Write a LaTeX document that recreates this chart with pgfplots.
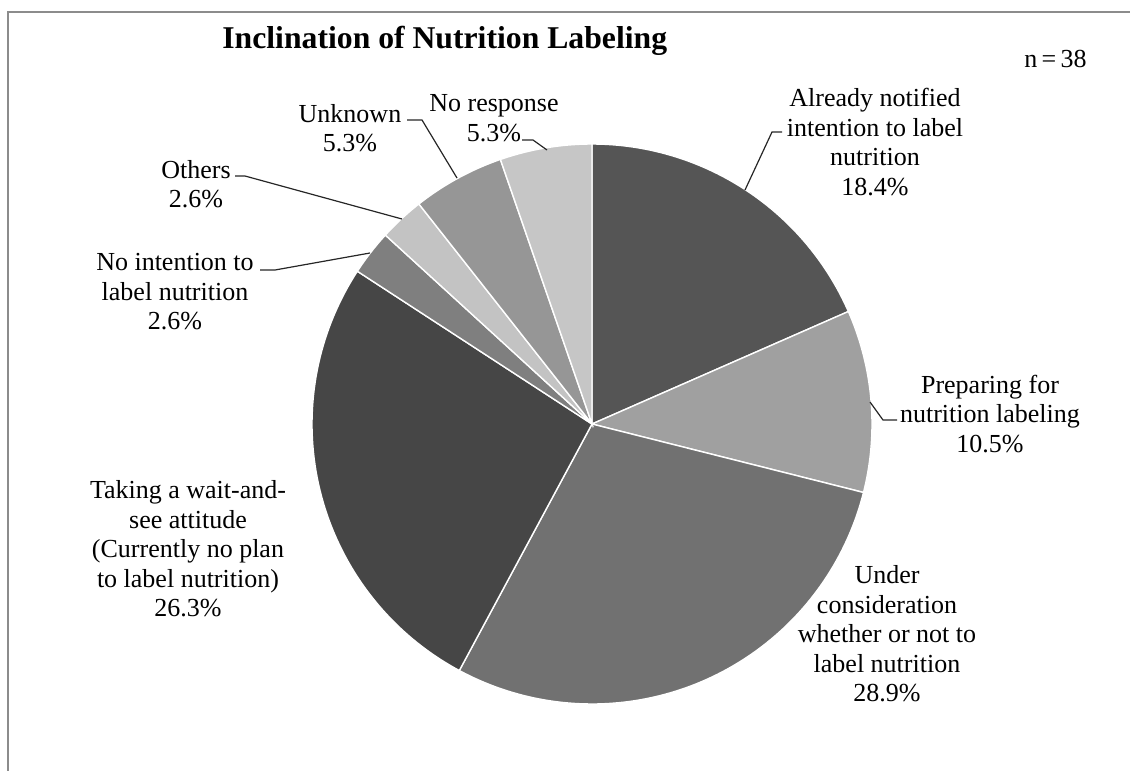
\documentclass[border=0pt]{standalone}
\usepackage{fontspec}
\setmainfont{Liberation Serif}
\usepackage{pgfplots}
\pgfplotsset{compat=1.18}
\usepackage{pgfplotstable}
\definecolor{c0}{HTML}{555555}
\definecolor{c1}{HTML}{A0A0A0}
\definecolor{c2}{HTML}{717171}
\definecolor{c3}{HTML}{464646}
\definecolor{c4}{HTML}{7F7F7F}
\definecolor{c5}{HTML}{C3C3C3}
\definecolor{c6}{HTML}{969696}
\definecolor{c7}{HTML}{C6C6C6}
\definecolor{frame}{HTML}{8C8C8C}
\pgfplotstableread[col sep=comma]{
name,pct
Already notified,18.4
Preparing,10.5
Under consideration,28.9
Taking a wait-and-see,26.3
No intention,2.6
Others,2.6
Unknown,5.3
No response,5.3
}\piedata
\newcommand\lab{\fontsize{13pt}{14.75pt}\selectfont}
\begin{document}
\begin{tikzpicture}
\begin{axis}[scale only axis, width=565pt, height=385.5pt,
  xmin=0, xmax=1130, ymin=0, ymax=771, y dir=reverse,
  hide axis, clip=false]
\def\cum{0}
\pgfplotsforeachungrouped \i in {0,...,7}{%
  \pgfplotstablegetelem{\i}{pct}\of\piedata
  \pgfmathsetmacro\aS{90-\cum*3.6036}%
  \pgfmathsetmacro\cum{\cum+\pgfplotsretval}%
  \pgfmathsetmacro\aE{90-\cum*3.6036}%
  \edef\temp{\noexpand\addplot[fill=c\i, draw=white, line width=0.7pt,
     domain=\aE:\aS, samples=90, variable=\noexpand\t]
     ({592+280*cos(\noexpand\t)},{424-280*sin(\noexpand\t)}) -- (axis cs:592,424) -- cycle;}%
  \temp
}
% frame
\draw[frame, line width=1.25pt] (axis cs:1130,12) -- (axis cs:8,12) -- (axis cs:8,771);
% title and n
\node[anchor=base west, inner sep=0, font=\fontsize{15.85pt}{18pt}\selectfont\bfseries] at (axis cs:222,48) {Inclination of Nutrition Labeling};
\node[anchor=base west, inner sep=0, font=\lab] at (axis cs:1024,67) {n\,=\,38};
% leader lines
\draw[black!85, line width=0.6pt] (axis cs:782,132) -- (axis cs:772,132) -- (axis cs:745,190);
\draw[black!85, line width=0.6pt] (axis cs:897,420) -- (axis cs:883,420) -- (axis cs:870,402);
\draw[black!85, line width=0.6pt] (axis cs:260,270) -- (axis cs:275,270) -- (axis cs:370,253);
\draw[black!85, line width=0.6pt] (axis cs:235,176) -- (axis cs:245,176) -- (axis cs:402,219);
\draw[black!85, line width=0.6pt] (axis cs:407,120) -- (axis cs:422,120) -- (axis cs:457,178);
\draw[black!85, line width=0.6pt] (axis cs:522,140) -- (axis cs:533,140) -- (axis cs:547,150);
% labels
\node[align=center, inner sep=0, font=\lab] at (axis cs:875,142) {Already notified\\intention to label\\nutrition\\18.4\%};
\node[align=center, inner sep=0, font=\lab] at (axis cs:990,414) {Preparing for\\nutrition labeling\\10.5\%};
\node[align=center, inner sep=0, font=\lab] at (axis cs:887,634) {Under\\consideration\\whether or not to\\label nutrition\\28.9\%};
\node[align=center, inner sep=0, font=\lab] at (axis cs:188,549) {Taking a wait-and-\\see attitude\\(Currently no plan\\to label nutrition)\\26.3\%};
\node[align=center, inner sep=0, font=\lab] at (axis cs:175,292) {No intention to\\label nutrition\\2.6\%};
\node[align=center, inner sep=0, font=\lab] at (axis cs:196,184) {Others\\2.6\%};
\node[align=center, inner sep=0, font=\lab] at (axis cs:350,128) {Unknown\\5.3\%};
\node[align=center, inner sep=0, font=\lab] at (axis cs:494,118) {No response\\5.3\%};
\end{axis}
\pgfresetboundingbox
\path (current axis.south west) rectangle (current axis.north east);
\end{tikzpicture}
\end{document}
